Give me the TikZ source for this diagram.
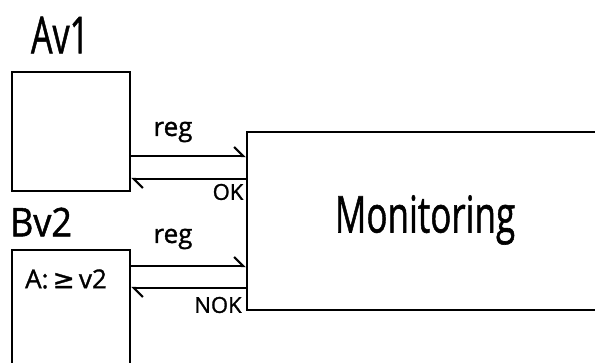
\documentclass[tikz,border=0pt]{standalone}
\usepackage{fontspec}
\usepackage{graphicx}
\setmainfont[FakeBold=1.2]{Open Sans}
\newfontfamily\dvfont[FakeBold=1.2]{DejaVu Sans}
\usetikzlibrary{arrows.meta}
\tikzset{
  boxstyle/.style={draw, line width=2.5pt, rectangle, inner sep=0pt},
  conn/.style={line width=2.5pt, -{Straight Barb[harpoon, length=9pt, width=18pt, line width=2.2pt]}},
  lbl/.style={inner sep=0pt, anchor=center}
}
\begin{document}
\begin{tikzpicture}[x=1pt,y=1pt]
\useasboundingbox (0,0) rectangle (595,363);
\clip (0,0) rectangle (595,363);
\node[boxstyle, minimum width=118pt, minimum height=119pt] (A) at (71,231.5) {};
\node[boxstyle, minimum width=118pt, minimum height=143pt] (B) at (71,41.5) {};
\node[boxstyle, minimum width=380pt, minimum height=178pt] (M) at (437,142) {};
\draw[conn] (A.east |- 0,207) -- (M.west |- 0,207);
\draw[conn] (M.west |- 0,184) -- (A.east |- 0,184);
\draw[conn] (B.north east |- 0,97) -- (M.west |- 0,97);
\draw[conn] (M.west |- 0,75) -- (B.north east |- 0,75);
\node[lbl] (tA) at (60,328) {\fontsize{34}{34}\selectfont\scalebox{1}[1.5]{Av1}};
\node[lbl] (tB) at (41,141) {\fontsize{36}{36}\selectfont\scalebox{1}[1.1]{Bv2}};
\node[lbl] (reg1) at (173,231) {\fontsize{26}{26}\selectfont reg};
\node[lbl] (ok) at (228,171) {\fontsize{22}{22}\selectfont OK};
\node[lbl] (reg2) at (173,124) {\fontsize{26}{26}\selectfont reg};
\node[lbl] (nok) at (218,58) {\fontsize{22}{22}\selectfont NOK};
\node[lbl] (cond) at (66,84) {\fontsize{26}{26}\selectfont A:\,{\dvfont ≥}\,v2};
\node[lbl] (mon) at (425,143) {\fontsize{35}{35}\selectfont\scalebox{1}[1.45]{Monitoring}};
\end{tikzpicture}
\end{document}
